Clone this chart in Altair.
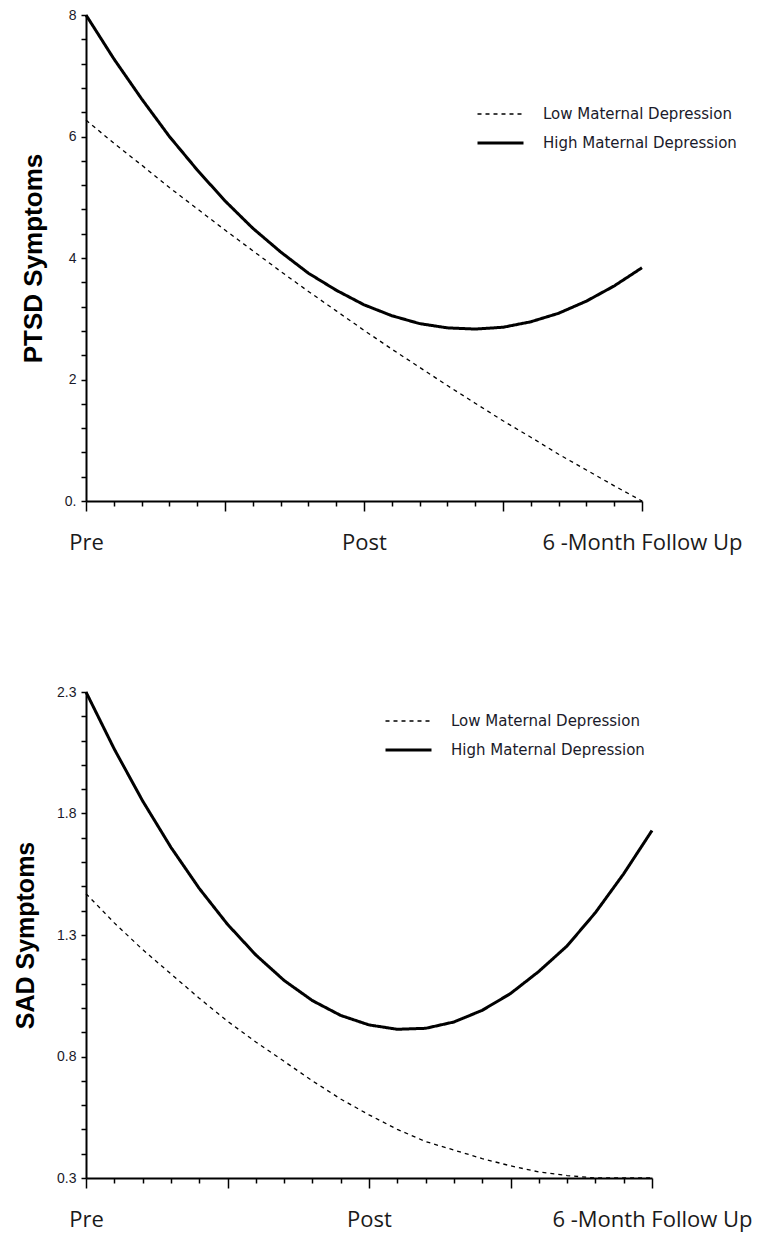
import altair as alt
import pandas as pd

# time axis: 0 = Pre, 1 = Post, 2 = 6-Month Follow Up
TIME = [0.0, 0.1, 0.2, 0.3, 0.4, 0.5, 0.6, 0.7, 0.8, 0.9, 1.0,
        1.1, 1.2, 1.3, 1.4, 1.5, 1.6, 1.7, 1.8, 1.9, 2.0]
X_LABELS = ["Pre", "Post", "6 -Month Follow Up"]
GROUPS = ["Low Maternal Depression", "High Maternal Depression"]

PTSD_LOW = [6.27, 5.89, 5.53, 5.16, 4.81, 4.46, 4.12, 3.78, 3.45, 3.13, 2.81,
            2.50, 2.20, 1.90, 1.61, 1.32, 1.05, 0.77, 0.51, 0.25, 0.00]
PTSD_HIGH = [8.00, 7.28, 6.62, 6.00, 5.45, 4.94, 4.49, 4.10, 3.75, 3.47, 3.23,
             3.05, 2.92, 2.85, 2.83, 2.86, 2.95, 3.09, 3.29, 3.54, 3.84]
SAD_LOW = [1.47, 1.35, 1.24, 1.14, 1.04, 0.945, 0.86, 0.78, 0.70, 0.625, 0.56,
           0.50, 0.45, 0.415, 0.38, 0.35, 0.325, 0.31, 0.30, 0.30, 0.30]
SAD_HIGH = [2.30, 2.065, 1.852, 1.661, 1.492, 1.344, 1.218, 1.113, 1.030, 0.969, 0.930,
            0.912, 0.916, 0.942, 0.990, 1.059, 1.150, 1.255, 1.392, 1.552, 1.73]

PTSD_TICKS = [0, 0.4, 0.8, 1.2, 1.6, 2, 2.4, 2.8, 3.2, 3.6, 4, 4.4, 4.8, 5.2,
              5.6, 6, 6.4, 6.8, 7.2, 7.6, 8]
SAD_TICKS = [0.3, 0.4, 0.5, 0.6, 0.7, 0.8, 0.9, 1.0, 1.1, 1.2, 1.3, 1.4, 1.5,
             1.6, 1.7, 1.8, 1.9, 2.0, 2.1, 2.2, 2.3]


def long_df(low, high):
    rows = []
    for t, v in zip(TIME, low):
        rows.append({"t": t, "v": v, "g": GROUPS[0]})
    for t, v in zip(TIME, high):
        rows.append({"t": t, "v": v, "g": GROUPS[1]})
    return pd.DataFrame(rows)


X_EXPR = ("datum.value === 0 ? '%s' : (abs(datum.value - 1) < 0.001 ? '%s' : "
          "(abs(datum.value - 2) < 0.001 ? '%s' : ''))" % tuple(X_LABELS))


def panel(df, ydomain, yticks, ylabel_expr, ytitle, title_size, width, lx, ly):
    legend = alt.Legend(
        title=None, orient="none", legendX=lx, legendY=ly,
        symbolType="stroke", symbolSize=2116, symbolStrokeColor="black",
        labelFont="DejaVu Sans", labelFontSize=15, labelColor="#1a1a2a",
        labelOffset=18, rowPadding=1, clipHeight=28, labelLimit=0,
    )
    return alt.Chart(df).mark_line(color="black").encode(
        x=alt.X("t:Q",
                scale=alt.Scale(domain=[0, 2], nice=False, zero=False),
                axis=alt.Axis(
                    values=TIME, labelExpr=X_EXPR, title=None,
                    tickSize={"condition": {"test": "abs(datum.value*2 - round(datum.value*2)) < 0.001",
                                            "value": 10}, "value": 5},
                    tickColor="black", tickWidth=1.5,
                    domainColor="black", domainWidth=2,
                    labelFont="Open Sans", labelFontSize=22, labelColor="#1a1a1a",
                    labelPadding=21, labelBaseline="top", labelLimit=0,
                    labelFlush=False, labelOverlap=False, grid=False)),
        y=alt.Y("v:Q",
                scale=alt.Scale(domain=ydomain, nice=False, zero=False),
                axis=alt.Axis(
                    values=yticks, labelExpr=ylabel_expr, title=ytitle,
                    titleFont="Liberation Sans", titleFontSize=title_size, titleFontWeight="bold",
                    titleColor="black", titlePadding=18,
                    tickSize=5, tickColor="black", tickWidth=1.5,
                    domainColor="black", domainWidth=2,
                    labelFont="Liberation Sans", labelFontSize=14, labelColor="#1a1a2a",
                    labelPadding=5, labelOverlap=False, grid=False)),
        strokeDash=alt.StrokeDash("g:N", sort=GROUPS,
                                  scale=alt.Scale(domain=GROUPS, range=[[4, 4], [1, 0]]),
                                  legend=legend),
        strokeWidth=alt.StrokeWidth("g:N", sort=GROUPS,
                                    scale=alt.Scale(domain=GROUPS, range=[1.3, 3]),
                                    legend=legend),
    ).properties(width=width, height=486)


top = panel(
    long_df(PTSD_LOW, PTSD_HIGH), [0, 8], PTSD_TICKS,
    "datum.value === 0 ? '0.' : (abs(datum.value/2 - round(datum.value/2)) < 0.001 ? format(datum.value, 'd') : '')",
    "PTSD Symptoms", 26, 556, 390, 85,
)
bottom = panel(
    long_df(SAD_LOW, SAD_HIGH), [0.3, 2.3], SAD_TICKS,
    "abs((datum.value-0.3)/0.5 - round((datum.value-0.3)/0.5)) < 0.001 ? format(datum.value, '.1f') : ''",
    "SAD Symptoms", 25, 566, 298, 15,
)

chart = alt.vconcat(top, bottom, spacing=132).resolve_legend(
    strokeDash="independent", strokeWidth="independent"
).properties(
    padding={"left": 5, "top": 0, "right": 5, "bottom": 5}
).configure_view(stroke=None)

chart.save("out.html", embed_options={"renderer": "svg", "actions": False})
